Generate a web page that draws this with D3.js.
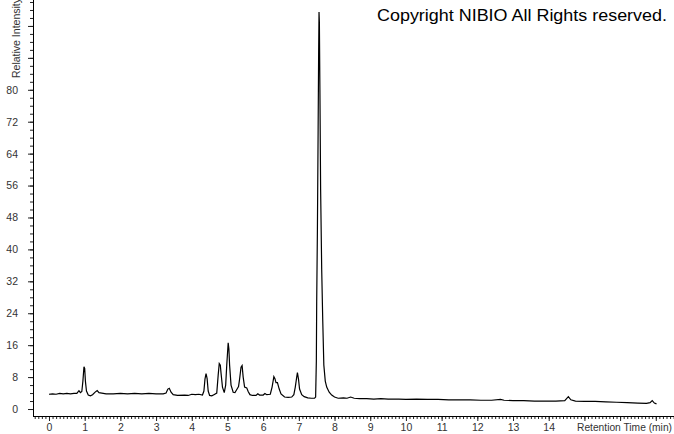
<!DOCTYPE html>
<html>
<head>
<meta charset="utf-8">
<script src="https://cdn.jsdelivr.net/npm/d3@7"></script>
<style>
  body{margin:0;background:#fff;}
  svg text{font-family:"Liberation Sans",Arial,sans-serif;}
</style>
</head>
<body>
<div class="chart-container"></div>
<script>
// chromatogram: retention time (min) / relative intensity
const times = [0.00,0.10,0.20,0.30,0.40,0.50,0.60,0.70,0.78,0.84,0.88,0.92,0.95,0.98,1.00,1.02,1.05,1.10,1.16,1.22,1.30,1.35,1.40,1.48,
  1.60,1.80,2.00,2.20,2.40,2.60,2.80,3.00,3.20,3.28,3.33,3.37,3.42,3.48,3.60,3.80,3.90,4.00,4.10,4.20,4.30,4.34,4.37,4.40,4.43,4.46,
  4.50,4.56,4.62,4.70,4.74,4.77,4.80,4.82,4.86,4.91,4.95,4.98,5.02,5.04,5.06,5.10,5.16,5.21,5.27,5.31,5.34,5.38,5.41,5.44,5.48,5.54,
  5.58,5.63,5.70,5.80,5.85,5.90,6.00,6.05,6.10,6.20,6.25,6.30,6.33,6.36,6.40,6.45,6.50,6.60,6.70,6.80,6.86,6.90,6.94,6.96,6.99,7.02,
  7.08,7.15,7.25,7.35,7.44,7.47,7.49,7.50,7.52,7.54,7.555,7.565,7.575,7.59,7.61,7.64,7.67,7.70,7.74,7.78,7.85,7.92,8.00,8.10,8.25,
  8.35,8.45,8.55,8.70,8.90,9.10,9.30,9.50,9.80,10.00,10.30,10.60,10.90,11.20,11.50,11.80,12.10,12.40,12.65,12.75,13.00,13.30,13.60,
  13.90,14.20,14.45,14.55,14.62,14.75,15.00,15.30,15.60,15.90,16.20,16.50,16.74,16.84,16.90,16.96,17.02];
const intensity = [3.7,3.8,3.7,3.9,3.8,3.9,3.8,3.9,3.9,4.6,4.1,4.4,7.0,10.6,10.2,7.0,4.5,3.5,3.3,3.6,4.3,4.6,4.1,4.0,
  3.8,3.8,3.9,3.8,3.9,3.8,3.9,3.8,3.8,4.0,5.0,5.2,4.2,3.6,3.4,3.5,3.4,3.7,3.6,3.7,3.5,4.5,7.5,8.9,7.6,4.5,
  3.4,3.3,3.6,4.0,8.5,11.4,11.0,9.0,5.5,4.1,6.0,11.0,16.6,15.0,11.0,6.0,4.2,4.1,5.0,5.6,7.5,10.5,10.9,8.0,5.5,5.3,
  4.4,3.6,3.4,3.4,3.8,3.5,3.5,3.9,3.6,3.7,5.5,8.1,7.6,6.6,6.6,5.0,3.8,3.0,2.9,3.0,3.6,5.5,8.0,9.1,7.5,5.0,
  3.6,3.1,2.8,2.7,2.7,3.0,12,27,45,70,90,99.5,97,80,55,35,22,11,7,5.5,4.2,3.5,3.0,2.7,2.8,
  2.7,3.0,2.7,2.6,2.6,2.5,2.6,2.5,2.5,2.4,2.5,2.4,2.4,2.3,2.3,2.3,2.2,2.2,2.4,2.2,2.1,2.1,2.0,
  2.0,2.0,2.1,3.1,2.3,2.0,1.9,1.9,1.8,1.7,1.6,1.5,1.4,1.6,2.1,1.5,1.3];
const yTickLabels = [0,8,16,24,32,40,48,56,64,72,80];
const xTickLabels = [0,1,2,3,4,5,6,7,8,9,10,11,12,13,14];

const data = times.map((t,i)=>({t:t, v:intensity[i]}));

const svg_width=674, svg_height=434;
const svg=d3.select('.chart-container').append('svg')
    .attr('width',svg_width).attr('height',svg_height);

// scales: axis box from x=33 to right edge, y from top to 416
const xScale=d3.scaleLinear().domain([-0.448,17.51]).range([33,674]);
const yScale=d3.scaleLinear().domain([-1.75,102.5]).range([416,0]);

// y axis
const yMinor=d3.axisLeft(yScale).tickValues(d3.range(0,103,2)).tickSize(3).tickFormat('');
svg.append('g').attr('transform','translate(33,0)').call(yMinor);
const yAxis=d3.axisLeft(yScale).tickValues(yTickLabels).tickSize(5).tickPadding(10);
const yAxisDraw=svg.append('g').attr('class','y axis').attr('transform','translate(33,0)').call(yAxis);
// extra majors above the labels (no text, the title sits there)
svg.append('g').attr('transform','translate(33,0)')
    .call(d3.axisLeft(yScale).tickValues([88,96]).tickSize(5).tickFormat(''));

// x axis
const xMinor=d3.axisBottom(xScale).tickValues(d3.range(-4,176).map(d=>d/10)).tickSize(3).tickFormat('');
svg.append('g').attr('transform','translate(0,416)').call(xMinor);
const xAxis=d3.axisBottom(xScale).tickValues(d3.range(0,18)).tickSize(5).tickPadding(3)
    .tickFormat(d=>xTickLabels.includes(d)?d:'');
const xAxisDraw=svg.append('g').attr('class','x axis').attr('transform','translate(0,416)').call(xAxis);

svg.selectAll('.domain').attr('stroke','#000').attr('d',null);
svg.selectAll('.tick line').attr('stroke','#222');
svg.selectAll('.tick text').attr('font-size','10.5px').attr('fill','#333')
    .style('font-family','"Liberation Sans",Arial,sans-serif');

// axis lines
svg.append('line').attr('x1',33.5).attr('x2',33.5).attr('y1',0).attr('y2',416.5).attr('stroke','#000');
svg.append('line').attr('x1',33).attr('x2',674).attr('y1',416.5).attr('y2',416.5).attr('stroke','#000');

// trace
const line=d3.line().x(d=>xScale(d.t)).y(d=>yScale(d.v));
svg.append('path').datum(data)
    .attr('d',line)
    .attr('fill','none')
    .attr('stroke','#000')
    .attr('stroke-width',1.2);

// labels
svg.append('text')
    .attr('transform','translate(20,78) rotate(-90)')
    .attr('font-size','10px').attr('fill','#333')
    .attr('textLength',80).attr('lengthAdjust','spacingAndGlyphs')
    .text('Relative Intensity');
svg.append('text')
    .attr('x',577).attr('y',431)
    .attr('font-size','10px').attr('fill','#333')
    .attr('textLength',95).attr('lengthAdjust','spacingAndGlyphs')
    .text('Retention Time (min)');
svg.append('text')
    .attr('x',377).attr('y',21)
    .attr('font-size','17px').attr('fill','#000')
    .attr('textLength',290).attr('lengthAdjust','spacingAndGlyphs')
    .text('Copyright NIBIO All Rights reserved.');
</script>
</body>
</html>
